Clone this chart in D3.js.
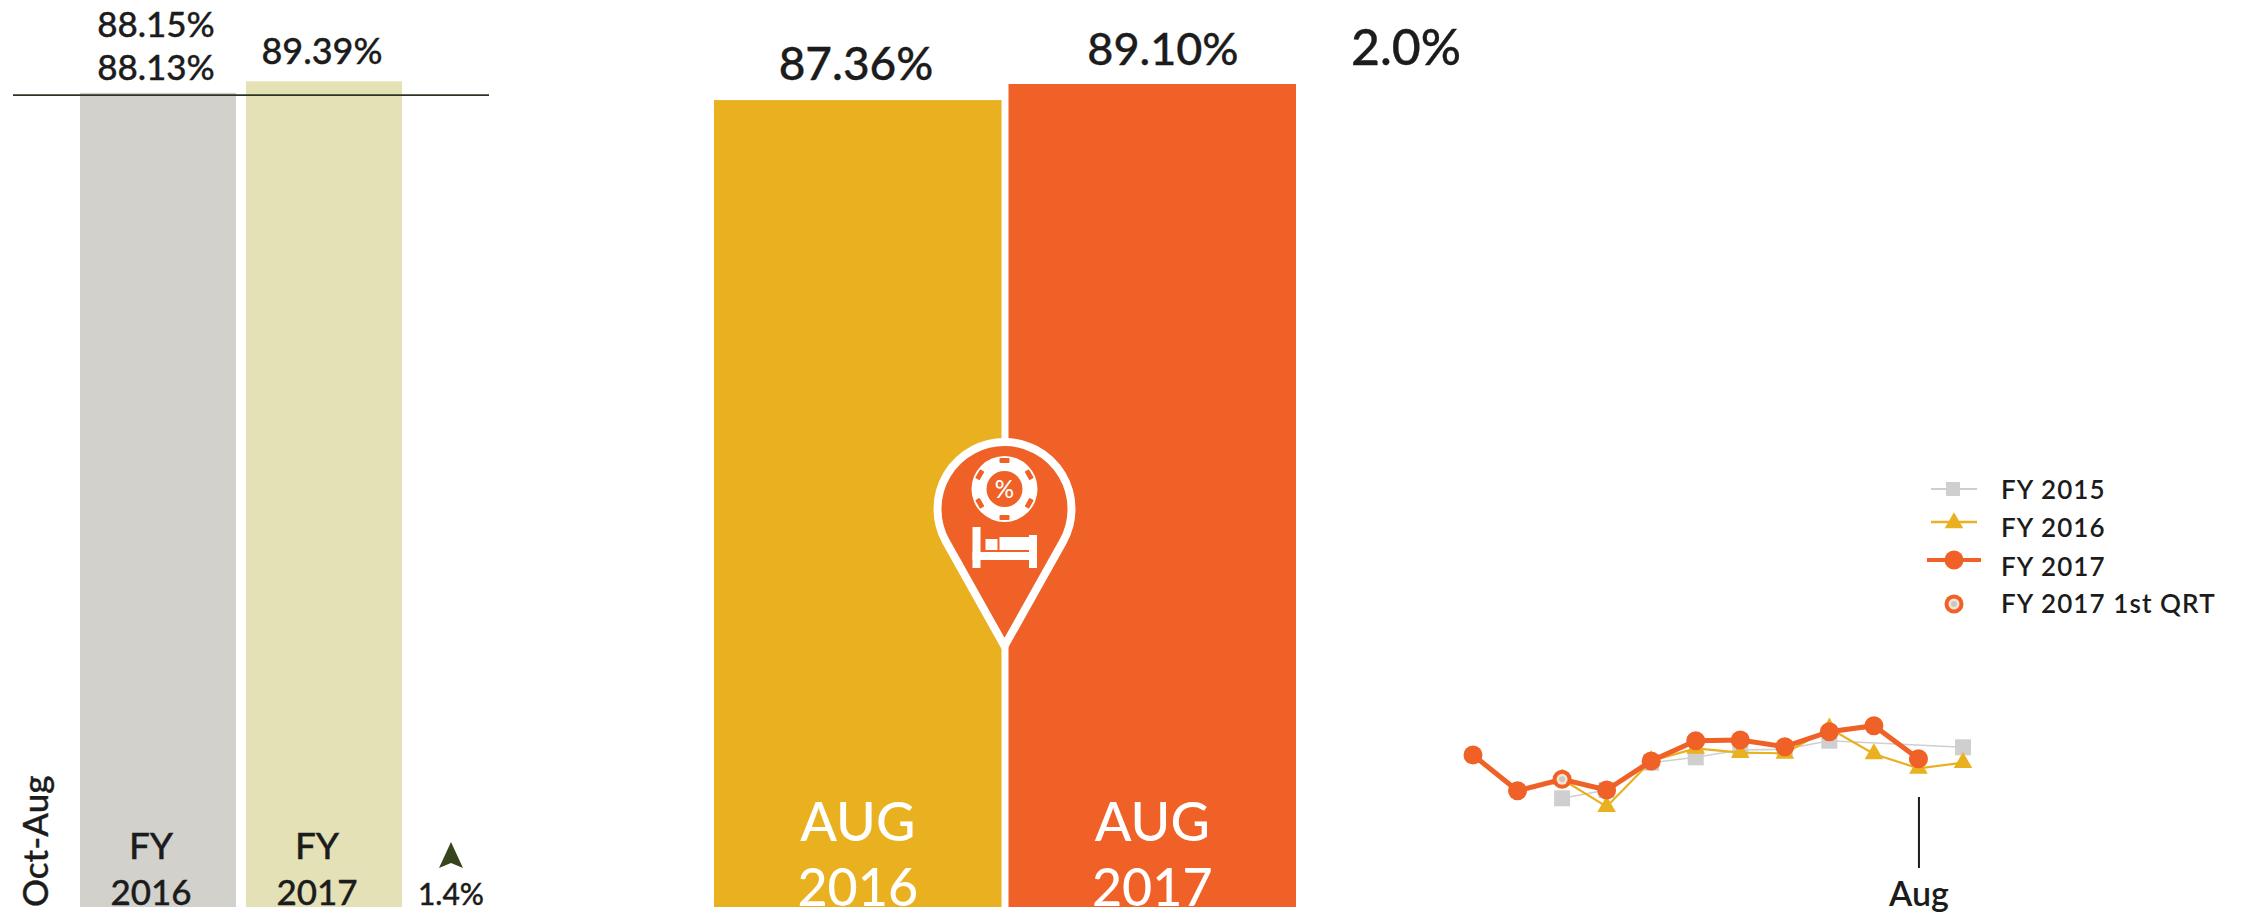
<!DOCTYPE html>
<html><head><meta charset="utf-8">
<script src="https://cdn.jsdelivr.net/npm/d3@7"></script>
<style>
html,body{margin:0;padding:0;background:#fff}
svg{display:block}
text{font-family:Lato,"Open Sans",sans-serif;fill:#1c1c1c;font-weight:500;stroke:currentColor;stroke-width:0}
.ink{stroke:#1c1c1c;stroke-width:.35px}
</style></head><body>
<svg id="c" width="2241" height="916"></svg>
<script>
const fyCategories = ["FY 2016","FY 2017"];
const fyValues = [88.15,89.39];
const fySecondLabel = "88.13%";
const fyChange = "1.4%";
const periodLabel = "Oct-Aug";
const augCategories = ["AUG 2016","AUG 2017"];
const augValues = [87.36,89.10];
const augChange = "2.0%";
const referenceValue = 87.9;
const months = ["Oct","Nov","Dec","Jan","Feb","Mar","Apr","May","Jun","Jul","Aug","Sep"];
const fy2015 = [null,null,81.96,83.46,88.38,89.35,90.67,90.79,92.34,null,null,91.15];
const fy2016 = [null,null,85.39,80.45,88.69,90.97,90.18,90.07,94.58,89.95,87.36,88.38];
const fy2017 = [89.77,83.33,85.39,83.46,88.69,92.34,92.47,91.26,93.96,95.05,89.10,null];
const firstQuarterMonth = "Dec";
const legendLabels = ["FY 2015","FY 2016","FY 2017","FY 2017 1st QRT"];
const C = {grey:"#D2D1CC",pale:"#E3E1B5",yellow:"#E9B120",orange:"#EF6127",lineGrey:"#CFCFCF",ink:"#1c1c1c",arrow:"#37451f"};

const svg = d3.select("#c");
const yBar = d3.scaleLinear().domain([0,89.10]).range([907,84]);
const xFy = d3.scaleBand().domain(fyCategories).range([80,402]).paddingInner(0.0602);
const xAug = d3.scaleBand().domain(augCategories).range([714,1296]).paddingInner(0.0238);

// ---------- left pair
svg.selectAll(".fy").data(fyCategories).join("rect")
  .attr("x",d=>xFy(d)).attr("width",xFy.bandwidth())
  .attr("y",(d,i)=>yBar(fyValues[i])).attr("height",(d,i)=>yBar(0)-yBar(fyValues[i]))
  .attr("fill",(d,i)=>i?C.pale:C.grey);
svg.append("line").attr("x1",13).attr("x2",489).attr("y1",yBar(referenceValue)).attr("y2",yBar(referenceValue))
  .attr("stroke","#2c3522").attr("stroke-width",1.8);
const t = (x,y,s,size,opt={})=>svg.append("text").attr("x",x).attr("y",y).attr("text-anchor",opt.anchor||"middle")
  .attr("font-size",size).attr("class",opt.fill?null:"ink").style("fill",opt.fill||C.ink).text(s);
const fyCx = d=>xFy(d)+xFy.bandwidth()/2-7;
t(156,37,fyValues[0].toFixed(2)+"%",35);
t(156,80,fySecondLabel,35);
t(322,64,fyValues[1].toFixed(2)+"%",36);
fyCategories.forEach(d=>{
  const [a,b]=d.split(" ");
  t(fyCx(d),859,a,37);
  t(fyCx(d),905,b,35);
});
svg.append("text").attr("class","ink").attr("transform","translate(48,907) rotate(-90)").attr("font-size",35).text(periodLabel);
svg.append("path").attr("d","M451,842 L463,868 L451,863 L439,868 Z").attr("fill",C.arrow);
t(451,905,fyChange,30);

// ---------- centre pair
svg.selectAll(".aug").data(augCategories).join("rect")
  .attr("x",d=>xAug(d)).attr("width",xAug.bandwidth())
  .attr("y",(d,i)=>yBar(augValues[i])).attr("height",(d,i)=>yBar(0)-yBar(augValues[i]))
  .attr("fill",(d,i)=>i?C.orange:C.yellow);
t(856,80,augValues[0].toFixed(2)+"%",46);
t(1163,65,augValues[1].toFixed(2)+"%",45);
t(1406,65,augChange,50);
augCategories.forEach(d=>{
  const [a,b]=d.split(" ");
  const cx=xAug(d)+xAug.bandwidth()/2;
  t(cx,841,a,54,{fill:"#fff"});
  t(cx,906,b,52,{fill:"#fff"});
});

// ---------- pin icon
const pin = svg.append("g").attr("transform","translate(1004.5,507)");
pin.append("path").attr("d","M0,139 L-58.7,34.3 A67,67 0 1 1 58.7,34.3 Z")
  .attr("fill",C.orange).attr("stroke","#fff").attr("stroke-width",8).attr("stroke-linejoin","round");
pin.append("circle").attr("cy",-18).attr("r",33).attr("fill","#fff");
d3.range(6).forEach(i=>{
  pin.append("rect").attr("x",-5).attr("y",-31).attr("width",10).attr("height",5).attr("rx",1)
    .attr("fill",C.orange).attr("transform",`translate(0,-18) rotate(${i*60})`);
});
pin.append("circle").attr("cy",-18).attr("r",18).attr("fill",C.orange);
pin.append("text").attr("y",-9).attr("text-anchor","middle").attr("font-size",24).style("fill","#fff").text("%");
[[-32,20,8,41],[24.5,28,8,33],[-32,45,64.5,8],[-5,30,29.5,13],[-19,32,12,11]].forEach(r=>{
  pin.append("rect").attr("x",r[0]).attr("y",r[1]).attr("width",r[2]).attr("height",r[3]).attr("fill","#fff");
});

// ---------- line chart
const xM = d3.scalePoint().domain(months).range([1473,1963]);
const yM = d3.scaleLinear().domain([80,100]).range([809.2,698.2]);
const lineGen = d3.line().x(d=>xM(d.m)).y(d=>yM(d.v));
const rows = a=>a.map((v,i)=>({m:months[i],v})).filter(d=>d.v!==null);
const triangle = d3.symbol().type(d3.symbolTriangle).size(150);
svg.append("path").datum(rows(fy2015)).attr("d",lineGen).attr("fill","none").attr("stroke",C.lineGrey).attr("stroke-width",1.6);
svg.selectAll(".s15").data(rows(fy2015)).join("rect")
  .attr("x",d=>xM(d.m)-8).attr("y",d=>yM(d.v)-8).attr("width",16).attr("height",16).attr("fill",C.lineGrey);
svg.append("path").datum(rows(fy2016)).attr("d",lineGen).attr("fill","none").attr("stroke",C.yellow).attr("stroke-width",2.2);
svg.selectAll(".s16").data(rows(fy2016)).join("path")
  .attr("d",triangle).attr("transform",d=>`translate(${xM(d.m)},${yM(d.v)})`).attr("fill",C.yellow);
svg.append("path").datum(rows(fy2017)).attr("d",lineGen).attr("fill","none").attr("stroke",C.orange).attr("stroke-width",5);
svg.selectAll(".s17").data(rows(fy2017)).join("circle")
  .attr("cx",d=>xM(d.m)).attr("cy",d=>yM(d.v)).attr("r",9.5).attr("fill",C.orange);
const qv = fy2017[months.indexOf(firstQuarterMonth)];
const ring=(g,x,y)=>{
  g.append("circle").attr("cx",x).attr("cy",y).attr("r",5.5).attr("fill","#F8E2D4");
  g.append("circle").attr("cx",x).attr("cy",y).attr("r",3).attr("fill","#c9c7c2");
};
ring(svg,xM(firstQuarterMonth),yM(qv));

const axis = d3.axisBottom(xM).tickValues(["Aug"]).tickSize(71).tickPadding(8);
const ax = svg.append("g").attr("transform","translate(0,797)").call(axis);
ax.select(".domain").remove();
ax.selectAll("line").attr("stroke","#1c1c1c").attr("stroke-width",2);
ax.selectAll("text").attr("font-size",34).style("font-family","Lato").style("font-weight",600).attr("dy",0).attr("y",109);

// ---------- legend
const legY=[489,526,560,604];
const legTextY=[490,528,567,604];
const lg = svg.append("g");
legendLabels.forEach((s,i)=>{
  lg.append("text").attr("x",2001).attr("y",legTextY[i]+9).attr("font-size",26).style("font-weight",600)
    .style("letter-spacing","1.1px").text(s);
});
lg.append("line").attr("x1",1931).attr("x2",1977).attr("y1",legY[0]).attr("y2",legY[0]).attr("stroke",C.lineGrey).attr("stroke-width",2);
lg.append("rect").attr("x",1946).attr("y",legY[0]-7).attr("width",14).attr("height",14).attr("fill",C.lineGrey);
lg.append("line").attr("x1",1931).attr("x2",1977).attr("y1",legY[1]-4).attr("y2",legY[1]-4).attr("stroke",C.yellow).attr("stroke-width",2.4);
lg.append("path").attr("d",triangle).attr("transform",`translate(1954,${legY[1]-3})`).attr("fill",C.yellow);
lg.append("line").attr("x1",1927).attr("x2",1981).attr("y1",legY[2]).attr("y2",legY[2]).attr("stroke",C.orange).attr("stroke-width",4);
lg.append("circle").attr("cx",1954).attr("cy",legY[2]).attr("r",9.5).attr("fill",C.orange);
lg.append("circle").attr("cx",1954).attr("cy",legY[3]).attr("r",9.5).attr("fill",C.orange);
ring(lg,1954,legY[3]);
</script>
</body></html>
